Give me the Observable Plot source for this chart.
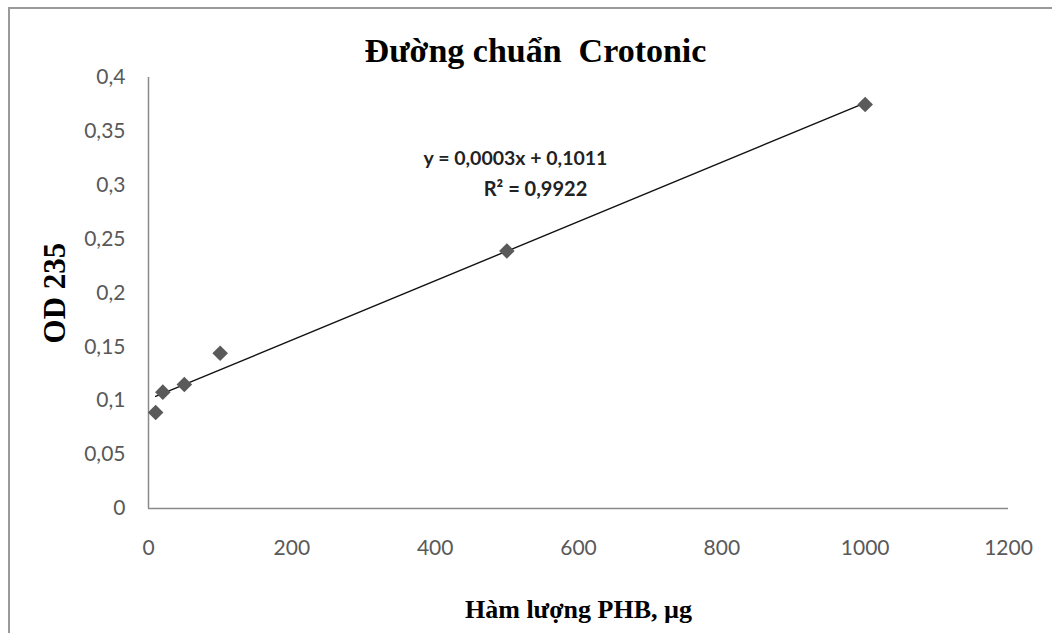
<!DOCTYPE html>
<html>
<head>
<meta charset="utf-8">
<script src="https://cdn.jsdelivr.net/npm/d3@7"></script>
<script src="https://cdn.jsdelivr.net/npm/@observablehq/plot@0.6"></script>
<style>
  html, body { margin: 0; padding: 0; background: #fff; width: 1052px; height: 633px; overflow: hidden; }
  #frame { position: absolute; left: 8px; top: 7px; width: 1100px; height: 700px; border-left: 2px solid #9a9a9a; border-top: 2px solid #9a9a9a; }
  #chart { position: absolute; left: 0; top: 0; }
</style>
</head>
<body>
<div id="frame"></div>
<div id="chart"></div>
<script>
// Data
const phb = [10, 20, 50, 100, 500, 1000];          // Hàm lượng PHB, µg
const od = [0.089, 0.108, 0.115, 0.144, 0.239, 0.375]; // OD 235
const xTicks = [0, 200, 400, 600, 800, 1000, 1200];
const xTickLabels = ["0", "200", "400", "600", "800", "1000", "1200"];
const yTicks = [0, 0.05, 0.1, 0.15, 0.2, 0.25, 0.3, 0.35, 0.4];
const yTickLabels = ["0", "0,05", "0,1", "0,15", "0,2", "0,25", "0,3", "0,35", "0,4"];
const title = "Đường chuẩn  Crotonic";
const xLabel = "Hàm lượng PHB, µg";
const yLabel = "OD 235";
const eqLine1 = "y = 0,0003x + 0,1011";
const eqLine2 = "R² = 0,9922";

const data = phb.map((x, i) => ({x, y: od[i]}));
const serif = "'Liberation Serif', 'DejaVu Serif', serif";
const sans = "Lato, 'Open Sans', sans-serif";

const chart = Plot.plot({
  width: 1052,
  height: 633,
  marginLeft: 148,
  marginRight: 44,
  marginTop: 77,
  marginBottom: 125,
  style: {fontFamily: sans, background: "transparent", overflow: "visible"},
  x: {domain: [0, 1200], label: null},
  y: {domain: [0, 0.4], label: null},
  marks: [
    Plot.axisX({ticks: xTicks, tickSize: 0, tickPadding: 32, fontSize: 21, fill: "#595959", label: null,
      tickFormat: d => xTickLabels[xTicks.indexOf(d)]}),
    Plot.axisY({ticks: yTicks, tickSize: 0, tickPadding: 23, fontSize: 21, fill: "#595959", label: null,
      tickFormat: d => yTickLabels[yTicks.indexOf(d)]}),
    Plot.ruleY([0], {stroke: "#8a8a8a", strokeWidth: 1.5}),
    Plot.ruleX([0], {stroke: "#8a8a8a", strokeWidth: 1.5}),
    Plot.linearRegressionY(data, {x: "x", y: "y", ci: 0, stroke: "#111", strokeWidth: 1.4}),
    Plot.dot(data, {x: "x", y: "y", symbol: "diamond2", r: 7, fill: "#5a5a5a", stroke: "none"}),
    Plot.text([title], {frameAnchor: "top", dx: -43, dy: -40, fontFamily: serif, fontWeight: "bold", fontSize: 34, fill: "#000"}),
    Plot.text([xLabel], {frameAnchor: "bottom", dx: 0, dy: 109, fontFamily: serif, fontWeight: "bold", fontSize: 26, fill: "#000"}),
    Plot.text([yLabel], {frameAnchor: "left", dx: -93, dy: 0, rotate: -90, textAnchor: "middle", fontFamily: serif, fontWeight: "bold", fontSize: 31, fill: "#000"}),
    Plot.text([eqLine1], {frameAnchor: "top-left", dx: 367, dy: 74, textAnchor: "middle", fontFamily: sans, fontWeight: "bold", fontSize: 19.5, fill: "#222"}),
    Plot.text([eqLine2], {frameAnchor: "top-left", dx: 387, dy: 104, textAnchor: "middle", fontFamily: sans, fontWeight: "bold", fontSize: 20, fill: "#222"})
  ]
});
document.getElementById("chart").append(chart);
</script>
</body>
</html>
